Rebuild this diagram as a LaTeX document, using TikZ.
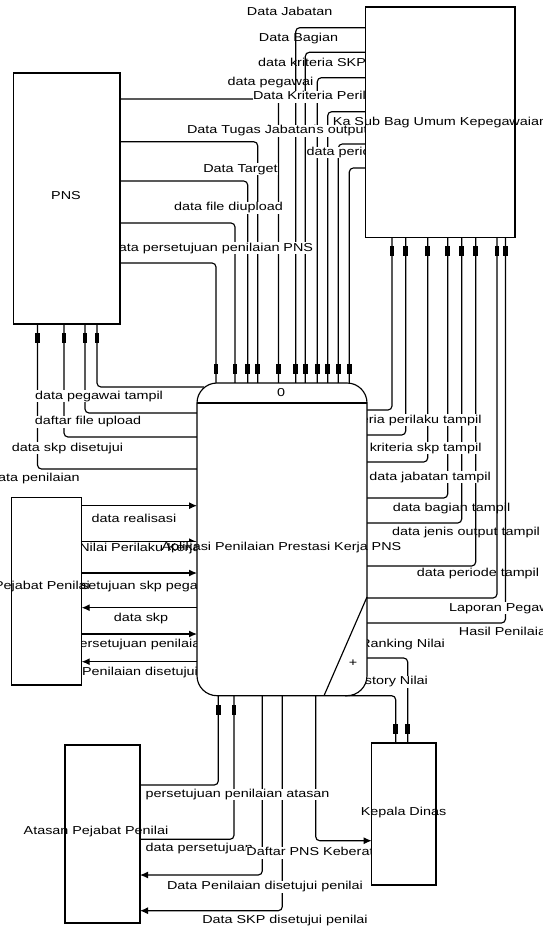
\documentclass[tikz,border=0pt]{standalone}
\usepackage{fontspec}
\setmainfont{Liberation Sans}[FakeStretch=1.25]
\usetikzlibrary{arrows.meta,decorations.markings}
\begin{document}
\begin{tikzpicture}[x=1pt,y=-1pt,
  every node/.style={font=\fontsize{11.5}{13}\selectfont},
  ln/.style={line width=1.15pt, rounded corners=4pt},
  mk/.style={ln, postaction={decorate, decoration={markings,
      mark=at position -14pt with {\fill[sharp corners] (-5pt,-2.4pt) rectangle (5pt,2.4pt);}}}},
  ar/.style={ln, -{Latex[length=8pt,width=7pt]}},
  lbl/.style={fill=white, inner sep=0.5pt, text height=8.3pt, text depth=2.3pt},
  blbl/.style={inner sep=0pt},
  geo/.style={rectangle, inner sep=0pt, outer sep=0pt, anchor=north west},
  ent/.style={draw, fill=white, line width=1.15pt}
]
\useasboundingbox (0,0) rectangle (542,928);
\fill[white] (0,0) rectangle (542,928);
\clip (0,0) rectangle (542,928);

% geometry of the boxes (drawn later)
\node[geo, minimum width=106.2pt, minimum height=251pt] (pns) at (13.8,73) {};
\node[geo, minimum width=149.3pt, minimum height=230.3pt] (ksb) at (365.7,7) {};
\node[geo, minimum width=170pt, minimum height=312.7pt] (proc) at (197,383) {};
\node[geo, minimum width=70pt, minimum height=187.7pt] (pej) at (11.7,497.3) {};
\node[geo, minimum width=75pt, minimum height=178pt] (ata) at (65,745) {};
\node[geo, minimum width=64.3pt, minimum height=142pt] (kd) at (371.7,743) {};

% labels lying under later lines
\node[lbl] (tBag) at (298.5,38.3) {Data Bagian};
\node[lbl] (tSKP) at (312,63.3) {data kriteria SKP};
\node[lbl] (tPeg) at (270.5,83) {data pegawai};
\node[lbl] (rBag) at (451.5,508) {data bagian tampil};
\node[lbl] (rJen) at (466,532) {data jenis output tampil};
\node[lbl] (rPer) at (478,573) {data periode tampil};

% PNS -> process
\draw[mk] (pns.east |- 0,263) -| (216,0 |- proc.north);
\draw[mk] (pns.east |- 0,223) -| (235,0 |- proc.north);
\draw[mk] (pns.east |- 0,181) -| (247.7,0 |- proc.north);
\draw[mk] (pns.east |- 0,141.7) -| (257.7,0 |- proc.north);
\draw[mk] (pns.east |- 0,99) -| (278.5,0 |- proc.north);
% Ka Sub Bag -> process
\draw[mk] (ksb.west |- 0,27.7) -| (295.7,0 |- proc.north);
\draw[mk] (ksb.west |- 0,52.3) -| (305.3,0 |- proc.north);
\draw[mk] (ksb.west |- 0,77.7) -| (317.3,0 |- proc.north);
\draw[mk] (ksb.west |- 0,111.7) -| (327.7,0 |- proc.north);
\draw[mk] (ksb.west |- 0,144) -| (338.3,0 |- proc.north);
\draw[mk] (ksb.west |- 0,168) -| (349.3,0 |- proc.north);
% process -> PNS
\draw[mk] ([shift={(7,4)}]proc.north west) -| (97,0 |- pns.south);
\draw[mk] (proc.west |- 0,413) -| (85,0 |- pns.south);
\draw[mk] (proc.west |- 0,437) -| (64,0 |- pns.south);
\draw[mk] (proc.west |- 0,469) -| (37.5,0 |- pns.south);
% Pejabat Penilai <-> process
\draw[ar] (pej.east |- 0,505.7) -- (proc.west |- 0,505.7);
\draw[ar] (pej.east |- 0,541.7) -- (proc.west |- 0,541.7);
\draw[ar] (pej.east |- 0,573) -- (proc.west |- 0,573);
\draw[ar] (proc.west |- 0,607.7) -- (pej.east |- 0,607.7);
\draw[ar] (pej.east |- 0,634) -- (proc.west |- 0,634);
\draw[ar] (proc.west |- 0,661.7) -- (pej.east |- 0,661.7);
% Atasan Pejabat Penilai <-> process
\draw[mk] (ata.east |- 0,785) -| (218.3,0 |- proc.south);
\draw[mk] (ata.east |- 0,839.3) -| (234,0 |- proc.south);
\draw[ar] (262.3,0 |- proc.south) |- (ata.east |- 0,875);
\draw[ar] (282.3,0 |- proc.south) |- (ata.east |- 0,910.7);
% process -> Kepala Dinas
\draw[ar] (315.7,0 |- proc.south) |- (kd.west |- 0,840.7);
\draw[mk] (proc.east |- 0,658) -| (407.7,0 |- kd.north);
\draw[mk] ([xshift=-22pt]proc.south east) -| (395.7,0 |- kd.north);
% process -> Ka Sub Bag
\draw[mk] (proc.east |- 0,410) -| (392,0 |- ksb.south);
\draw[mk] (proc.east |- 0,435) -| (405.7,0 |- ksb.south);
\draw[mk] (proc.east |- 0,462) -| (427.7,0 |- ksb.south);
\draw[mk] (proc.east |- 0,498) -| (447.7,0 |- ksb.south);
\draw[mk] (proc.east |- 0,523) -| (461.7,0 |- ksb.south);
\draw[mk] (proc.east |- 0,566) -| (475.7,0 |- ksb.south);
\draw[mk] (proc.east |- 0,598) -| (497,0 |- ksb.south);
\draw[mk] (proc.east |- 0,623) -| (505.5,0 |- ksb.south);

% flow labels
\node[lbl] (tJab) at (289.7,12.7) {Data Jabatan};
\node[lbl] (tKP) at (321,97) {Data Kriteria Perilaku};
\node[lbl] (tJen) at (315,131) {data jenis output};
\node[lbl] (tTug) at (251.5,131) {Data Tugas Jabatan};
\node[lbl] (tPer) at (346.7,152.7) {data periode};
\node[lbl] (tTar) at (240.5,169) {Data Target};
\node[lbl] (tFil) at (228.5,208) {data file diupload};
\node[lbl] (tPPN) at (212,248) {data persetujuan penilaian PNS};

\node[lbl] (lPT) at (99,396) {data pegawai tampil};
\node[lbl] (lDF) at (88,421.7) {daftar file upload};
\node[lbl] (lSD) at (67.5,448) {data skp disetujui};
\node[lbl] (lPN) at (35,478) {data penilaian};

\node[lbl] (pRe) at (134,519) {data realisasi};
\node[lbl] (pNP) at (140,548) {Nilai Perilaku Kerja};
\node[lbl] (pPS) at (140,586.7) {persetujuan skp pegawai};
\node[lbl] (pDS) at (141,618) {data skp};
\node[lbl] (pPP) at (140,644) {persetujuan penilaian};
\node[lbl] (pPD) at (140,672.7) {Penilaian disetujui};

\node[lbl] (rKP) at (395.7,420) {data kriteria perilaku tampil};
\node[lbl] (rKS) at (409.7,448) {data kriteria skp tampil};
\node[lbl] (rJab) at (430,477) {data jabatan tampil};
\node[lbl] (rLap) at (505,608) {Laporan Pegawai};
\node[lbl] (rHas) at (506.5,632) {Hasil Penilaian};
\node[lbl] (rRan) at (402.6,644) {Ranking Nilai};
\node[lbl] (rHis) at (389.6,681.7) {History Nilai};

\node[lbl, anchor=west] (bPA) at (145,794.3) {persetujuan penilaian atasan};
\node[lbl, anchor=west] (bDP) at (145,848.3) {data persetujuan};
\node[lbl] (bDK) at (318,852.7) {Daftar PNS Keberatan};
\node[lbl] (bPD) at (265,886.7) {Data Penilaian disetujui penilai};
\node[lbl] (bSD) at (285,920) {Data SKP disetujui penilai};

% boxes
\draw[ent] (pns.north west) rectangle (pns.south east);
\draw[ent] (ksb.north west) rectangle (ksb.south east);
\draw[ent] (pej.north west) rectangle (pej.south east);
\draw[ent] (ata.north west) rectangle (ata.south east);
\draw[ent] (kd.north west) rectangle (kd.south east);
\draw[ent, rounded corners=20pt] (proc.north west) rectangle (proc.south east);
\draw[ln] ([yshift=-20pt]proc.north west) -- ([yshift=-20pt]proc.north east);
\draw[ln] (proc.east |- 0,597) -- (324,0 |- proc.south);

% box labels
\node[blbl] (nPNS) at (66,196) {PNS};
\node[blbl] (nKSB) at (440,122.7) {Ka Sub Bag Umum Kepegawaian};
\node[blbl] (nPej) at (42,587) {Pejabat Penilai};
\node[blbl] (nAta) at (96,831.7) {Atasan Pejabat Penilai};
\node[blbl] (nKD) at (403.5,812.7) {Kepala Dinas};
\node[blbl] (nProc) at (281.5,548) {Aplikasi Penilaian Prestasi Kerja PNS};
\node[blbl] (nNum) at (281,393) {0};
\node[blbl] (nPlus) at (353,663) {+};
\end{tikzpicture}
\end{document}
